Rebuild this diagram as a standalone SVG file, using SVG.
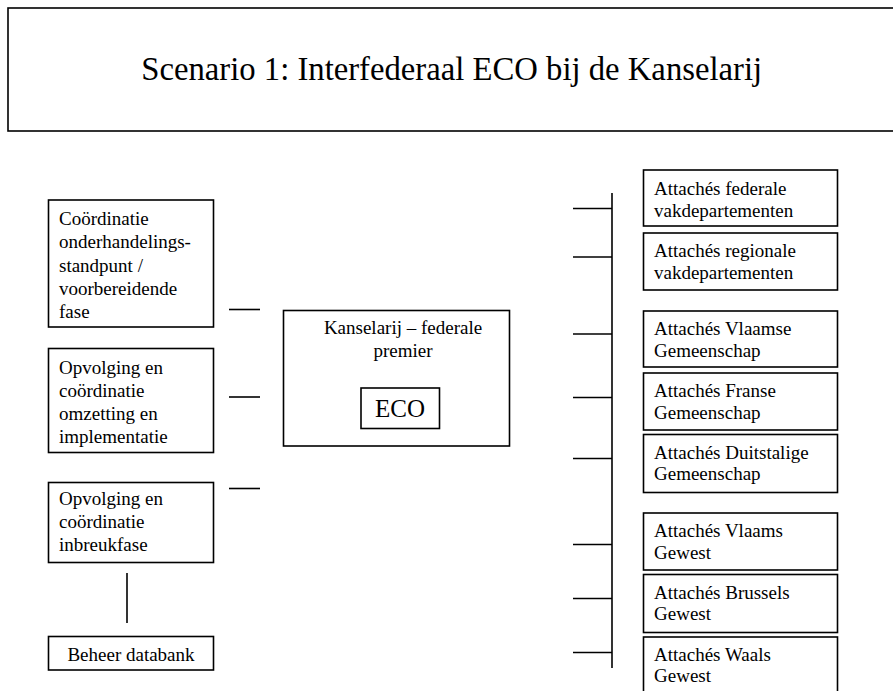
<svg xmlns="http://www.w3.org/2000/svg" width="893" height="691" viewBox="0 0 893 691">
  <style>
    .box { fill: #fff; stroke: #000; stroke-width: 1.6; }
    .ln { stroke: #000; stroke-width: 1.6; fill: none; }
    text { font-family: "Liberation Serif", "Times New Roman", serif; fill: #000; }
    .t { font-size: 19px; }
    .c { text-anchor: middle; }
  </style>
  <rect width="893" height="691" fill="#fff"/>

  <!-- title banner -->
  <g id="title">
    <rect class="box" x="8" y="8" width="900" height="123"/>
    <text x="451.7" y="80" font-size="32.7" class="c">Scenario 1: Interfederaal ECO bij de Kanselarij</text>
  </g>

  <!-- connectors -->
  <g id="connectors">
    <line class="ln" x1="229" y1="309.5" x2="260" y2="309.5"/>
    <line class="ln" x1="229" y1="397" x2="260" y2="397"/>
    <line class="ln" x1="229" y1="488.5" x2="260" y2="488.5"/>
    <line class="ln" x1="127" y1="573" x2="127" y2="623"/>
    <line class="ln" x1="612" y1="193" x2="612" y2="668"/>
    <line class="ln" x1="573" y1="208.5" x2="612" y2="208.5"/>
    <line class="ln" x1="573" y1="257" x2="612" y2="257"/>
    <line class="ln" x1="573" y1="334" x2="612" y2="334"/>
    <line class="ln" x1="573" y1="397.5" x2="612" y2="397.5"/>
    <line class="ln" x1="573" y1="458.5" x2="612" y2="458.5"/>
    <line class="ln" x1="573" y1="544.5" x2="612" y2="544.5"/>
    <line class="ln" x1="573" y1="598.5" x2="612" y2="598.5"/>
    <line class="ln" x1="573" y1="652.5" x2="612" y2="652.5"/>
  </g>

  <!-- left column -->
  <g id="coordinatie-onderhandeling">
    <rect class="box" x="48.5" y="200" width="165" height="127"/>
    <text class="t" x="59" y="225">Coördinatie</text>
    <text class="t" x="59" y="248.3">onderhandelings-</text>
    <text class="t" x="59" y="271.6">standpunt /</text>
    <text class="t" x="59" y="294.9">voorbereidende</text>
    <text class="t" x="59" y="318.2">fase</text>
  </g>
  <g id="opvolging-omzetting">
    <rect class="box" x="48.5" y="348.5" width="165" height="104"/>
    <text class="t" x="59" y="373.5">Opvolging en</text>
    <text class="t" x="59" y="396.8">coördinatie</text>
    <text class="t" x="59" y="420.1">omzetting en</text>
    <text class="t" x="59" y="443.4">implementatie</text>
  </g>
  <g id="opvolging-inbreuk">
    <rect class="box" x="48.5" y="482.5" width="165" height="80"/>
    <text class="t" x="59" y="504.5">Opvolging en</text>
    <text class="t" x="59" y="527.8">coördinatie</text>
    <text class="t" x="59" y="551.1">inbreukfase</text>
  </g>
  <g id="beheer-databank">
    <rect class="box" x="48.5" y="636.5" width="165" height="33.5"/>
    <text class="t c" x="131" y="661">Beheer databank</text>
  </g>

  <!-- centre -->
  <g id="kanselarij">
    <rect class="box" x="283.5" y="310.5" width="226" height="135.5"/>
    <text class="t c" x="403" y="333.5">Kanselarij – federale</text>
    <text class="t c" x="403" y="357">premier</text>
  </g>
  <g id="eco">
    <rect class="box" x="361" y="388" width="78.5" height="40.5"/>
    <text class="c" x="400" y="417" font-size="25">ECO</text>
  </g>

  <!-- right column -->
  <g id="attaches-federale">
    <rect class="box" x="643.5" y="170" width="194" height="56"/>
    <text class="t" x="654" y="195">Attachés federale</text>
    <text class="t" x="654" y="216.5">vakdepartementen</text>
  </g>
  <g id="attaches-regionale">
    <rect class="box" x="643.5" y="233" width="194" height="57"/>
    <text class="t" x="654" y="257">Attachés regionale</text>
    <text class="t" x="654" y="278.5">vakdepartementen</text>
  </g>
  <g id="attaches-vlaamse-gemeenschap">
    <rect class="box" x="643.5" y="311" width="194" height="56"/>
    <text class="t" x="654" y="335">Attachés Vlaamse</text>
    <text class="t" x="654" y="356.5">Gemeenschap</text>
  </g>
  <g id="attaches-franse-gemeenschap">
    <rect class="box" x="643.5" y="373" width="194" height="57"/>
    <text class="t" x="654" y="397">Attachés Franse</text>
    <text class="t" x="654" y="418.5">Gemeenschap</text>
  </g>
  <g id="attaches-duitstalige-gemeenschap">
    <rect class="box" x="643.5" y="434.5" width="194" height="58"/>
    <text class="t" x="654" y="458.5">Attachés Duitstalige</text>
    <text class="t" x="654" y="480">Gemeenschap</text>
  </g>
  <g id="attaches-vlaams-gewest">
    <rect class="box" x="643.5" y="513" width="194" height="57"/>
    <text class="t" x="654" y="537">Attachés Vlaams</text>
    <text class="t" x="654" y="558.5">Gewest</text>
  </g>
  <g id="attaches-brussels-gewest">
    <rect class="box" x="643.5" y="574.5" width="194" height="58"/>
    <text class="t" x="654" y="598.5">Attachés Brussels</text>
    <text class="t" x="654" y="620">Gewest</text>
  </g>
  <g id="attaches-waals-gewest">
    <rect class="box" x="643.5" y="637" width="194" height="70"/>
    <text class="t" x="654" y="660.5">Attachés Waals</text>
    <text class="t" x="654" y="682">Gewest</text>
  </g>
</svg>
